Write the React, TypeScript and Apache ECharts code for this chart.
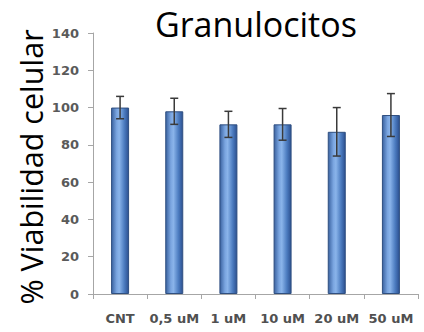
import React, { useEffect, useRef } from "react";
import * as echarts from "echarts";

const categories = ["CNT", "0,5 uM", "1 uM", "10 uM", "20 uM", "50 uM"];
const means = [100, 98, 91, 91, 87, 96];
const errors = [6, 7, 7, 8.5, 13, 11.5];
const yTicks = { min: 0, max: 140, interval: 20 };
const titleText = "Granulocitos";
const yName = "% Viabilidad celular";

export default function App() {
  const ref = useRef<HTMLDivElement>(null);
  useEffect(() => {
    if (!ref.current) return;
    const chart = echarts.init(ref.current, null, { renderer: "svg" });
    const errData = means.map((m, i) => [i, m - errors[i], m + errors[i]]);
    chart.setOption({
      animation: false,
      title: {
        text: titleText,
        left: 150,
        top: 2,
        textStyle: { fontFamily: "Open Sans", fontWeight: "normal", fontSize: 34, color: "#000" },
      },
      grid: { left: 93, right: 6, top: 33, bottom: 38 },
      graphic: [
        {
          type: "text",
          x: 31,
          y: 167,
          rotation: Math.PI / 2,
          style: {
            text: yName,
            fontFamily: "Open Sans",
            fontSize: 30.5,
            fill: "#000",
            textAlign: "center",
            textVerticalAlign: "middle",
          },
        },
      ],
      xAxis: {
        type: "category",
        data: categories,
        axisLine: { lineStyle: { color: "#a6a6a6", width: 1 } },
        axisTick: { show: true, length: 5, lineStyle: { color: "#a6a6a6" } },
        axisLabel: {
          margin: 18,
          fontFamily: "DejaVu Sans",
          fontWeight: "bold",
          fontSize: 13,
          color: "#505050",
          interval: 0,
        },
      },
      yAxis: {
        type: "value",
        min: yTicks.min,
        max: yTicks.max,
        interval: yTicks.interval,
        splitLine: { show: false },
        axisLine: { show: true, lineStyle: { color: "#a6a6a6", width: 1 } },
        axisTick: { show: true, length: 5, lineStyle: { color: "#a6a6a6" } },
        axisLabel: {
          margin: 14,
          fontFamily: "DejaVu Sans",
          fontWeight: "bold",
          fontSize: 13,
          color: "#5a5a5a",
        },
      },
      series: [
        {
          type: "bar",
          data: means,
          barWidth: 18,
          itemStyle: {
            color: new echarts.graphic.LinearGradient(0, 0, 1, 0, [
              { offset: 0, color: "#3a62a0" },
              { offset: 0.3, color: "#7aa5e0" },
              { offset: 0.45, color: "#8ab4ea" },
              { offset: 0.75, color: "#4c7cc0" },
              { offset: 1, color: "#2c5090" },
            ]),
            borderColor: "#2f4f80",
            borderWidth: 1,
          },
        },
        {
          type: "custom",
          data: errData,
          z: 10,
          renderItem: (params: any, api: any) => {
            const x = api.value(0);
            const lo = api.coord([x, api.value(1)]);
            const hi = api.coord([x, api.value(2)]);
            const hw = 4;
            const style = { stroke: "#3a3a3a", lineWidth: 1.5 };
            return {
              type: "group",
              children: [
                { type: "line", shape: { x1: hi[0], y1: hi[1], x2: lo[0], y2: lo[1] }, style },
                { type: "line", shape: { x1: hi[0] - hw, y1: hi[1], x2: hi[0] + hw, y2: hi[1] }, style },
                { type: "line", shape: { x1: lo[0] - hw, y1: lo[1], x2: lo[0] + hw, y2: lo[1] }, style },
              ],
            };
          },
        },
      ],
    });
    return () => chart.dispose();
  }, []);
  return <div ref={ref} style={{ width: 424, height: 332, position: "absolute", left: 0, top: 0 }} />;
}
